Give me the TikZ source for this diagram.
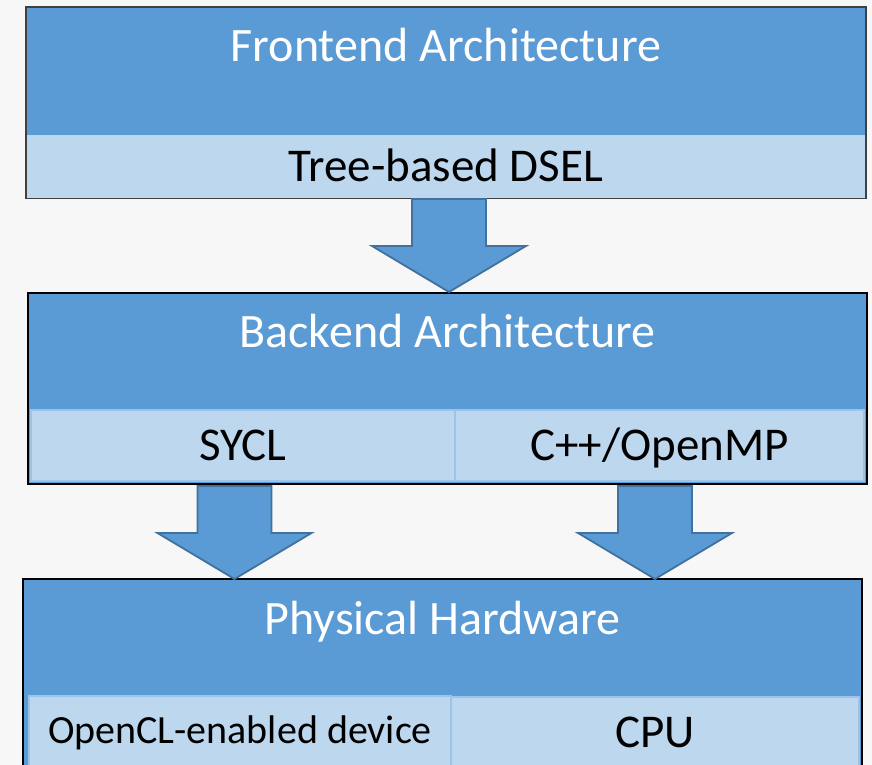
\documentclass[tikz,border=0pt]{standalone}
\usepackage{fontspec}
\setmainfont{Carlito}
\usetikzlibrary{calc}

\definecolor{bgcolor}{HTML}{F7F7F7}
\definecolor{titleblue}{HTML}{5B9BD5}
\definecolor{cellblue}{HTML}{BDD7EE}
\definecolor{cellline}{HTML}{9DC3E6}
\definecolor{arrowline}{HTML}{41719C}
\definecolor{framegray}{HTML}{404040}

\newcommand{\titlefont}{\fontsize{48}{58}\selectfont}
\newcommand{\cellfont}{\fontsize{47}{56}\selectfont}
\newcommand{\smallcellfont}{\fontsize{40}{48}\selectfont}

% block arrow pointing down, from the top middle of its shaft
\newcommand{\blockarrow}[1]{%
  \draw[flowarrow] ($(#1)+(-37,0)$) -- ++(74,0) -- ++(0,47) -- ++(40,0)
    -- ++(-77,46) -- ++(-77,-46) -- ++(40,0) -- cycle;}

\tikzset{
  frame/.style={rectangle, fill=titleblue, draw=black, line width=2, inner sep=0},
  cell/.style={rectangle, fill=cellblue, draw=cellline, line width=2, inner sep=0,
    font=\cellfont, text height=30, text depth=0},
  titletext/.style={font=\titlefont, text=white, anchor=base, inner sep=0},
  flowarrow/.style={fill=titleblue, draw=arrowline, line width=1.8, line join=miter}
}

\begin{document}
\begin{tikzpicture}[x=1pt, y=-1pt]
  \useasboundingbox (0,0) rectangle (872,765);
  \clip (0,0) rectangle (872,765);
  \fill[bgcolor] (0,0) rectangle (872,765);

  % frontend
  \node[frame, draw=framegray, minimum width=840, minimum height=191] (front) at (446,102.5) {};
  \node[titletext] (fronttxt) at ($(front.north)+(0,56)$) {Frontend Architecture};
  \node[cell, draw=none, minimum width=838, minimum height=63, anchor=north] (dsel) at (446,134) {Tree-based DSEL};

  % backend
  \node[frame, minimum width=839, minimum height=191] (back) at (447.5,388.5) {};
  \node[titletext] (backtxt) at ($(back.north)+(0,55)$) {Backend Architecture};
  \node[cell, minimum width=424, minimum height=71] (sycl) at (243,445.5) {SYCL};
  \node[cell, minimum width=409, minimum height=71] (cpp) at (659.5,445.5) {C++/OpenMP};

  % hardware
  \node[frame, minimum width=839, minimum height=201] (hw) at (442.5,679.5) {};
  \node[titletext] (hwtxt) at ($(hw.north)+(0,56)$) {Physical Hardware};
  \node[cell, font=\smallcellfont, text height=25, minimum width=422, minimum height=70] (opencl) at (240,731) {OpenCL-enabled device};
  \node[cell, minimum width=408, minimum height=70] (cpu) at (655,732) {CPU};

  \blockarrow{$(front.south)+(3,0)$}
  \blockarrow{$(sycl.south)+(-8.5,4)$}
  \blockarrow{$(cpp.south)+(-4.5,4)$}
\end{tikzpicture}
\end{document}
